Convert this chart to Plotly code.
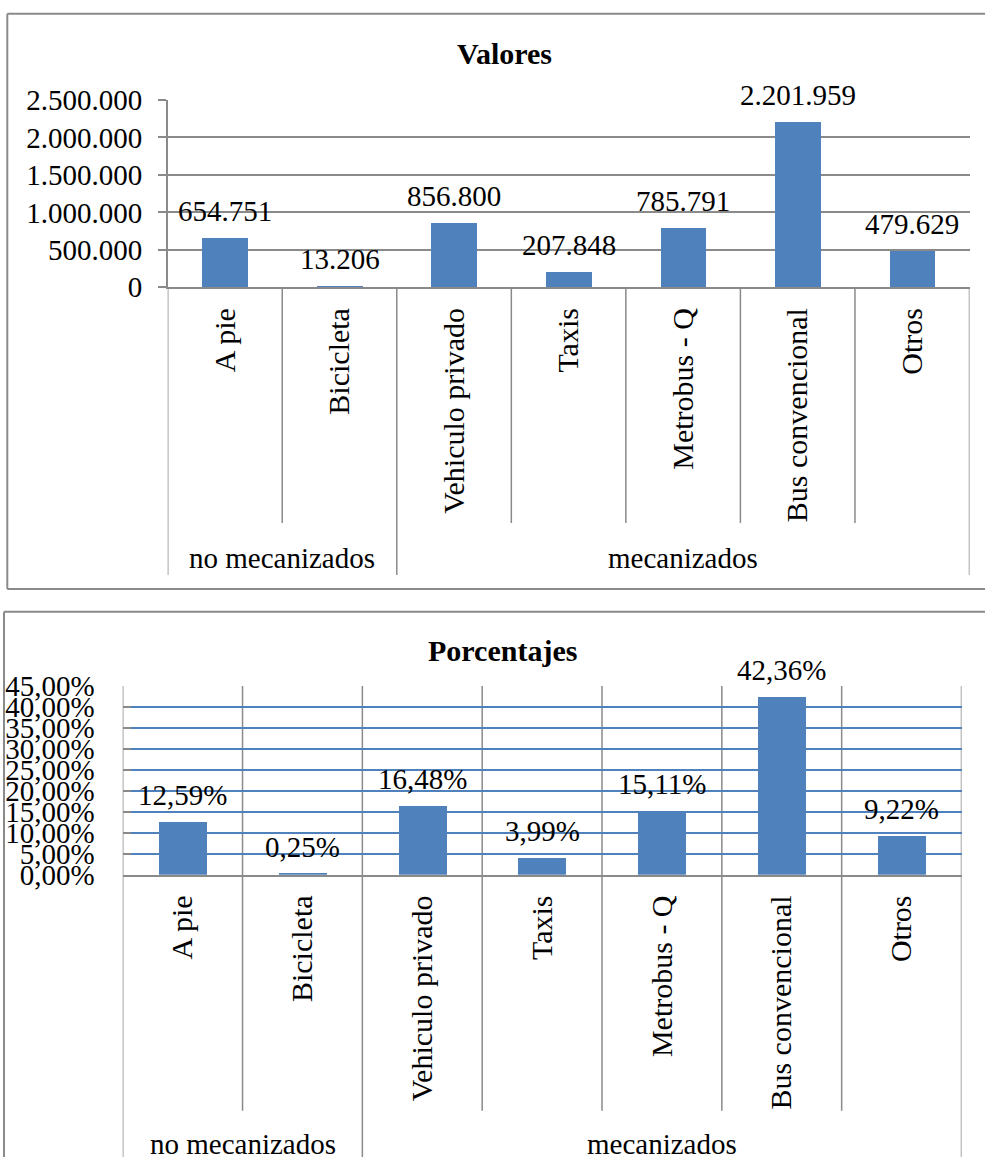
import plotly.graph_objects as go

# ---------------- data ----------------
categories = ["A pie", "Bicicleta", "Vehiculo privado", "Taxis",
              "Metrobus - Q", "Bus convencional", "Otros"]
groups = ["no mecanizados", "mecanizados"]
group_sizes = [2, 5]
valores = [654751, 13206, 856800, 207848, 785791, 2201959, 479629]
porcentajes = [12.59, 0.25, 16.48, 3.99, 15.11, 42.36, 9.22]
valores_ticks = [0, 500000, 1000000, 1500000, 2000000, 2500000]
porcentajes_ticks = [0, 5, 10, 15, 20, 25, 30, 35, 40, 45]

# ---------------- helpers ----------------
W, H = 985, 1157
FONT = "Liberation Serif, Times New Roman, serif"
GRAY = "#8A8A8A"
BLUE = "#4F81BD"


def px(x):
    return x / W


def py(y):
    return 1 - y / H


def fmt_miles(v):
    return f"{v:,}".replace(",", ".")


def fmt_pct(p):
    return f"{p:.2f}%".replace(".", ",")


idx = list(range(len(categories)))

fig = go.Figure()
fig.add_trace(go.Bar(x=idx, y=valores, width=0.4, marker=dict(color=BLUE, line=dict(width=0)),
                     xaxis="x", yaxis="y", showlegend=False, hoverinfo="skip"))
fig.add_trace(go.Bar(x=idx, y=porcentajes, width=0.4, marker=dict(color=BLUE, line=dict(width=0)),
                     xaxis="x2", yaxis="y2", showlegend=False, hoverinfo="skip"))

# plot areas (pixel based)
top_x = (167.7, 969.5)
top_y = (287.3, 100.0)   # (zero, max)
bot_x = (122.7, 961.5)
bot_y = (874.7, 686.0)

fig.update_layout(
    template="none",
    width=W, height=H, autosize=False,
    margin=dict(l=0, r=0, t=0, b=0, autoexpand=False),
    paper_bgcolor="white", plot_bgcolor="white",
    font=dict(family=FONT, size=29, color="black"),
    showlegend=False,
    bargap=0,
    xaxis=dict(domain=[px(top_x[0]), px(top_x[1])], range=[-0.5, 6.5], automargin=False,
               tickvals=idx, ticktext=categories, tickangle=-90,
               ticks="", showgrid=False, zeroline=False,
               showline=True, linecolor=GRAY, linewidth=1.5,
               ticklabelstandoff=7, tickfont=dict(size=30)),
    yaxis=dict(domain=[py(top_y[0]), py(top_y[1])], range=[0, 2500000], automargin=False,
               tickvals=valores_ticks, ticktext=[fmt_miles(v) for v in valores_ticks],
               ticks="outside", ticklen=8, tickcolor=GRAY, tickwidth=1.5,
               showgrid=True, gridcolor=GRAY, gridwidth=1.5, zeroline=False,
               showline=True, linecolor=GRAY, linewidth=1.5,
               ticklabelstandoff=10, tickfont=dict(size=29)),
    xaxis2=dict(domain=[px(bot_x[0]), px(bot_x[1])], range=[-0.5, 6.5], automargin=False,
                tickvals=idx, ticktext=categories, tickangle=-90,
                ticks="", showgrid=False, zeroline=False,
                showline=True, linecolor=GRAY, linewidth=1.5,
                ticklabelstandoff=7, tickfont=dict(size=30), anchor="y2"),
    yaxis2=dict(domain=[py(bot_y[0]), py(bot_y[1])], range=[0, 45], automargin=False,
                tickvals=porcentajes_ticks, ticktext=[fmt_pct(v) for v in porcentajes_ticks],
                ticks="inside", ticklen=8, tickcolor=GRAY, tickwidth=1.5,
                showgrid=True, gridcolor=BLUE, gridwidth=1.5, zeroline=False,
                showline=False, ticklabelstandoff=27, tickfont=dict(size=29),
                anchor="x2"),
)

shapes = []
line_gray = dict(color=GRAY, width=1.5)
# chart borders
for (x0, y0, x1, y1) in [(7.3, 13.7, 1000, 13.7), (7.3, 13.7, 7.3, 589), (7.3, 589, 1000, 589),
                         (4, 611.7, 1000, 611.7), (4, 611.7, 4, 1170)]:
    shapes.append(dict(type="line", xref="paper", yref="paper", x0=px(x0), x1=px(x1),
                       y0=py(y0), y1=py(y1), line=dict(color=GRAY, width=2)))

# group boundaries
group_bounds = [-0.5]
for s in group_sizes:
    group_bounds.append(group_bounds[-1] + s)
boundaries = [i - 0.5 for i in range(len(categories) + 1)]

for b in boundaries:
    is_group = b in group_bounds
    # top chart: below axis
    shapes.append(dict(type="line", xref="x", yref="paper", x0=b, x1=b,
                       y0=py(top_y[0]), y1=py(575 if is_group else 523), line=line_gray))
    # bottom chart: through plot area and below
    shapes.append(dict(type="line", xref="x2", yref="paper", x0=b, x1=b,
                       y0=py(bot_y[1]), y1=py(1170 if is_group else 1110.7), line=line_gray,
                       layer="below"))

annotations = []
# titles
annotations.append(dict(text="<b>Valores</b>", xref="paper", yref="paper", x=px(504), y=py(53),
                        xanchor="center", yanchor="middle", showarrow=False, font=dict(size=30)))
annotations.append(dict(text="<b>Porcentajes</b>", xref="paper", yref="paper", x=px(503), y=py(650),
                        xanchor="center", yanchor="middle", showarrow=False, font=dict(size=30)))
# value labels
for i, v in zip(idx, valores):
    annotations.append(dict(text=fmt_miles(v), xref="x", yref="y", x=i, y=v, xanchor="center",
                            yanchor="bottom", yshift=9, showarrow=False, font=dict(size=29)))
for i, p in zip(idx, porcentajes):
    annotations.append(dict(text=fmt_pct(p), xref="x2", yref="y2", x=i, y=p, xanchor="center",
                            yanchor="bottom", yshift=9, showarrow=False, font=dict(size=29)))
# group labels
start = 0
for g, s in zip(groups, group_sizes):
    center = start + (s - 1) / 2
    annotations.append(dict(text=g, xref="x", yref="paper", x=center, y=py(558),
                            xanchor="center", yanchor="middle", showarrow=False, font=dict(size=29)))
    annotations.append(dict(text=g, xref="x2", yref="paper", x=center, y=py(1144),
                            xanchor="center", yanchor="middle", showarrow=False, font=dict(size=29)))
    start += s

fig.update_layout(shapes=shapes, annotations=annotations)
fig.write_html("out.html")
